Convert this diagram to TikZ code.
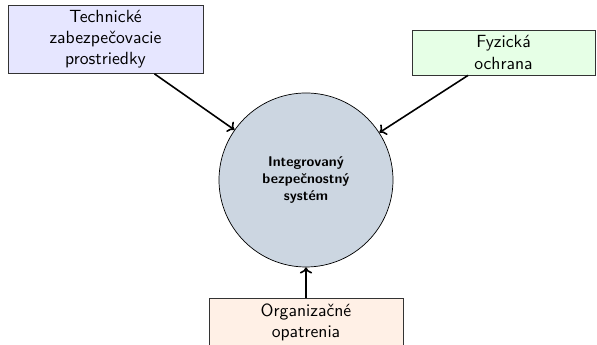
\documentclass[tikz,border=0pt]{standalone}
\usetikzlibrary{arrows.meta}
\definecolor{tlfill}{RGB}{230,230,255}
\definecolor{trfill}{RGB}{230,255,230}
\definecolor{bfill}{RGB}{255,240,230}
\definecolor{cfill}{RGB}{204,214,225}
\begin{document}
\begin{tikzpicture}[x=0.567pt,y=-0.567pt,font=\sffamily,
  box/.style={draw=black!80,line width=0.4pt,align=center,inner sep=0pt},
  hub/.style={circle,draw=black,line width=0.4pt,fill=cfill,align=center,inner sep=0pt,
    minimum size={174*0.567pt},font=\sffamily\bfseries\footnotesize},
  conn/.style={-{To[length=3.5pt,width=7pt]},line width=0.9pt}]
\useasboundingbox (0,0) rectangle (597,345);
\node[hub] (c) at (306,180) {Integrovaný\\bezpečnostný\\systém};
\node[box,fill=tlfill,minimum width={195*0.567pt},minimum height={68*0.567pt}] (tl) at (105.5,39.5) {Technické\\zabezpečovacie\\prostriedky};
\node[box,fill=trfill,minimum width={183*0.567pt},minimum height={45*0.567pt}] (tr) at (503.5,52.5) {Fyzická\\ochrana};
\node[box,fill=bfill,minimum width={194*0.567pt},minimum height={48*0.567pt}] (b) at (306,322) {Organizačné\\opatrenia};
\draw[conn] (tl) -- (c);
\draw[conn] (tr) -- (c);
\draw[conn] (b) -- (c);
\end{tikzpicture}
\end{document}
